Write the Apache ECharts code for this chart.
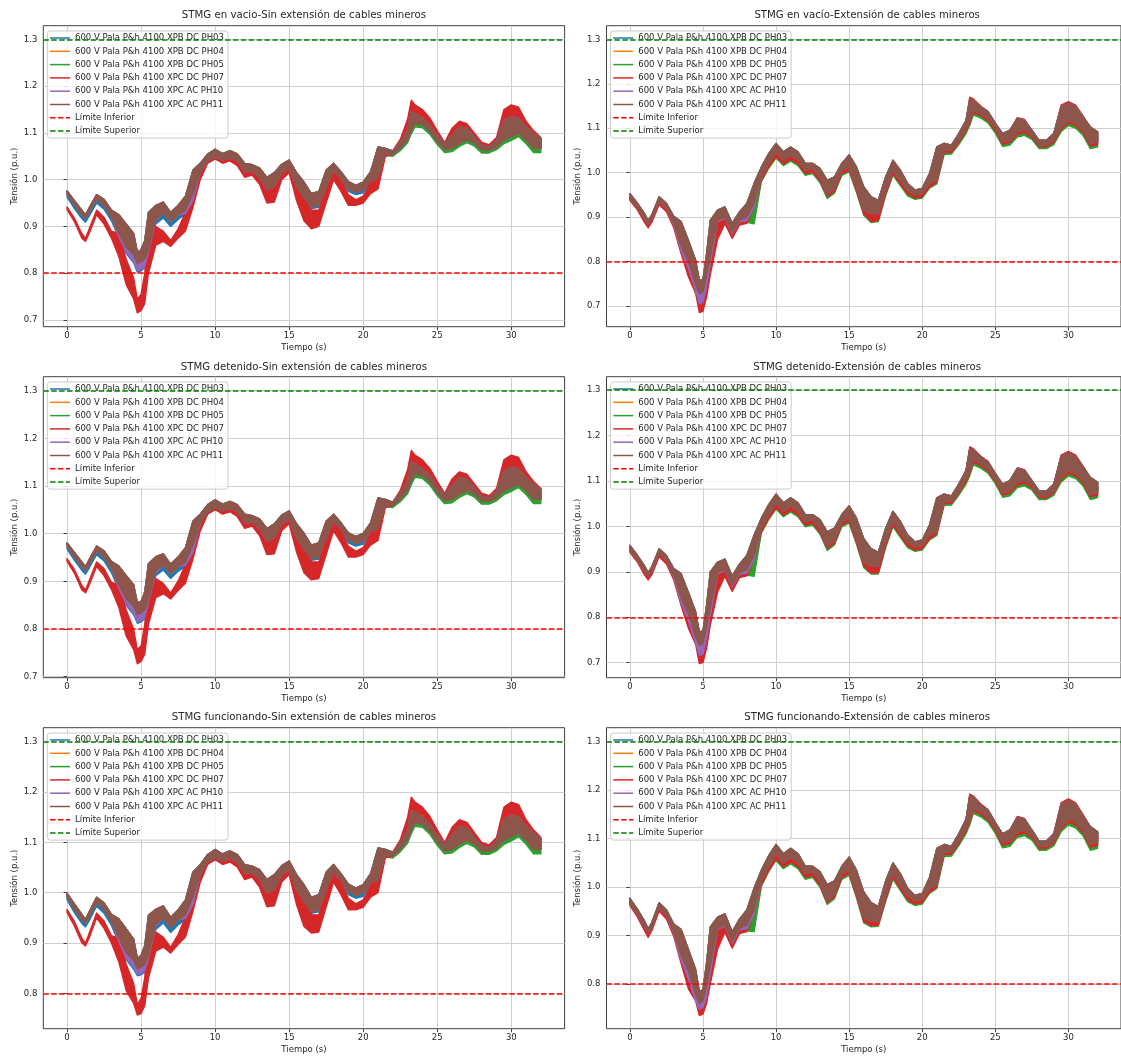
<!DOCTYPE html>
<html>
<head>
<meta charset="utf-8">
<script src="https://cdn.jsdelivr.net/npm/echarts@6/dist/echarts.min.js"></script>
<style>
  html, body { margin: 0; padding: 0; background: #ffffff; }
  #chart { width: 1121px; height: 1057px; }
</style>
</head>
<body>
<div id="chart"></div>
<script>
// Sample times (s)
const T = [
  0, 0.5, 1, 1.25, 1.5, 2,
  2.5, 3, 3.5, 4, 4.5, 4.75, 5, 5.25, 5.5,
  6, 6.5, 7, 7.5, 8, 8.5, 9, 9.5, 10,
  10.5, 11, 11.5, 12, 12.5, 13, 13.5, 14, 14.5, 15,
  15.5, 16, 16.5, 17, 17.5, 18, 18.5, 19, 19.5, 20,
  20.5, 21, 21.5, 22, 22.5, 23, 23.25, 23.5,
  24, 24.5, 25, 25.5, 26, 26.5, 27, 27.5, 28,
  28.5, 29, 29.5, 30, 30.5, 31, 31.5, 32
];

const SERIES_NAMES = [
  '600 V Pala P&h 4100 XPB DC PH03',
  '600 V Pala P&h 4100 XPB DC PH04',
  '600 V Pala P&h 4100 XPB DC PH05',
  '600 V Pala P&h 4100 XPC DC PH07',
  '600 V Pala P&h 4100 XPC AC PH10',
  '600 V Pala P&h 4100 XPC AC PH11'
];
const LIMIT_NAMES = ['Límite Inferior', 'Límite Superior'];
const LIM_INF = 0.8;
const LIM_SUP = 1.3;

const TITLES = [
  'STMG en vacio-Sin extensión de cables mineros',
  'STMG en vacío-Extensión de cables mineros',
  'STMG detenido-Sin extensión de cables mineros',
  'STMG detenido-Extensión de cables mineros',
  'STMG funcionando-Sin extensión de cables mineros',
  'STMG funcionando-Extensión de cables mineros'
];
const X_TICKS = [0, 5, 10, 15, 20, 25, 30];
const Y_TICKS = [0.7, 0.8, 0.9, 1.0, 1.1, 1.2, 1.3];

// Each voltage trace oscillates quickly; it is stored as the upper (HI)
// and lower (LO) envelope of the oscillation at every sample time.

// ---- STMG en vacío, sin extensión ----
const P1_PH11_HI = [
  0.976, 0.955, 0.935, 0.925, 0.940, 0.968,
  0.958, 0.935, 0.925, 0.905, 0.885, 0.845, 0.850, 0.870, 0.930,
  0.945, 0.952, 0.930, 0.945, 0.965, 1.020, 1.035, 1.055, 1.065,
  1.056, 1.062, 1.055, 1.035, 1.032, 1.025, 1.005, 1.015, 1.033, 1.042,
  1.015, 0.995, 0.970, 0.975, 1.020, 1.035, 1.017, 0.996, 0.988, 0.995,
  1.017, 1.070, 1.067, 1.061, 1.081, 1.106, 1.145, 1.142,
  1.131, 1.117, 1.095, 1.078, 1.095, 1.113, 1.110, 1.092, 1.074,
  1.070, 1.085, 1.127, 1.135, 1.131, 1.113, 1.099, 1.088
];
const P1_PH11_LO = [
  0.970, 0.945, 0.925, 0.917, 0.930, 0.958,
  0.945, 0.920, 0.885, 0.855, 0.840, 0.820, 0.825, 0.830, 0.850,
  0.915, 0.928, 0.910, 0.925, 0.935, 0.970, 1.015, 1.040, 1.048,
  1.042, 1.047, 1.040, 1.017, 1.018, 1.005, 0.978, 0.985, 1.015, 1.024,
  0.985, 0.962, 0.942, 0.945, 0.985, 1.020, 1.003, 0.981, 0.974, 0.978,
  0.998, 1.005, 1.056, 1.054, 1.067, 1.085, 1.105, 1.120,
  1.117, 1.103, 1.081, 1.064, 1.067, 1.078, 1.085, 1.078, 1.063,
  1.063, 1.070, 1.085, 1.092, 1.099, 1.085, 1.067, 1.067
];
const P1_PH07_HI = [
  0.942, 0.918, 0.885, 0.875, 0.895, 0.935,
  0.920, 0.890, 0.885, 0.830, 0.790, 0.745, 0.755, 0.800, 0.910,
  0.900, 0.890, 0.870, 0.895, 0.930, 0.990, 1.030, 1.050, 1.060,
  1.050, 1.055, 1.045, 1.025, 1.025, 1.012, 0.980, 0.985, 1.025, 1.035,
  0.990, 0.960, 0.935, 0.935, 0.990, 1.025, 1.000, 0.968, 0.957, 0.965,
  0.995, 1.030, 1.066, 1.062, 1.086, 1.130, 1.170, 1.160,
  1.150, 1.132, 1.105, 1.080, 1.110, 1.125, 1.120, 1.100, 1.080,
  1.075, 1.090, 1.150, 1.160, 1.155, 1.125, 1.105, 1.090
];
const P1_PH07_LO = [
  0.936, 0.910, 0.875, 0.868, 0.885, 0.925,
  0.905, 0.875, 0.835, 0.775, 0.745, 0.715, 0.720, 0.735, 0.800,
  0.860, 0.868, 0.857, 0.875, 0.890, 0.940, 1.000, 1.035, 1.045,
  1.035, 1.040, 1.030, 1.005, 1.010, 0.990, 0.950, 0.952, 1.000, 1.015,
  0.955, 0.912, 0.895, 0.900, 0.950, 1.000, 0.975, 0.945, 0.945, 0.950,
  0.970, 0.980, 1.050, 1.054, 1.070, 1.090, 1.120, 1.130,
  1.135, 1.115, 1.090, 1.070, 1.075, 1.090, 1.095, 1.085, 1.068,
  1.065, 1.075, 1.100, 1.110, 1.105, 1.090, 1.070, 1.070
];
const P1_PH03_LO = [
  0.963, 0.938, 0.917, 0.909, 0.922, 0.950,
  0.937, 0.912, 0.875, 0.842, 0.822, 0.802, 0.805, 0.812, 0.842,
  0.905, 0.918, 0.900, 0.915, 0.926, 0.955, 1.010, 1.036, 1.044,
  1.038, 1.043, 1.036, 1.013, 1.014, 1.001, 0.974, 0.981, 1.011, 1.020,
  0.981, 0.958, 0.938, 0.941, 0.981, 1.016, 0.999, 0.975, 0.968, 0.972,
  0.994, 1.005, 1.056, 1.054, 1.067, 1.085, 1.105, 1.120,
  1.117, 1.103, 1.081, 1.064, 1.067, 1.078, 1.085, 1.078, 1.063,
  1.063, 1.070, 1.085, 1.092, 1.099, 1.085, 1.067, 1.067
];
const P1_PH05_LO = [
  0.970, 0.945, 0.925, 0.917, 0.930, 0.958,
  0.945, 0.920, 0.885, 0.855, 0.840, 0.820, 0.825, 0.830, 0.850,
  0.915, 0.928, 0.910, 0.925, 0.935, 0.970, 1.015, 1.040, 1.048,
  1.042, 1.047, 1.040, 1.017, 1.018, 1.005, 0.978, 0.985, 1.015, 1.024,
  0.985, 0.962, 0.942, 0.945, 0.985, 1.020, 1.003, 0.981, 0.974, 0.978,
  0.998, 1.005, 1.052, 1.050, 1.062, 1.079, 1.098, 1.113,
  1.111, 1.097, 1.075, 1.058, 1.060, 1.071, 1.079, 1.072, 1.057,
  1.057, 1.064, 1.077, 1.084, 1.092, 1.077, 1.058, 1.058
];
const P1_PH10_LO = [
  0.970, 0.945, 0.925, 0.917, 0.930, 0.958,
  0.945, 0.920, 0.878, 0.845, 0.825, 0.805, 0.808, 0.815, 0.845,
  0.912, 0.928, 0.910, 0.925, 0.928, 0.955, 1.015, 1.040, 1.048,
  1.042, 1.047, 1.040, 1.017, 1.018, 1.005, 0.978, 0.985, 1.015, 1.024,
  0.985, 0.962, 0.942, 0.945, 0.985, 1.020, 1.003, 0.981, 0.974, 0.978,
  0.998, 1.005, 1.056, 1.054, 1.067, 1.085, 1.105, 1.120,
  1.117, 1.103, 1.081, 1.064, 1.067, 1.078, 1.085, 1.078, 1.063,
  1.063, 1.070, 1.085, 1.092, 1.099, 1.085, 1.067, 1.067
];

// ---- STMG en vacío, con extensión ----
const P2_PH11_HI = [
  0.953, 0.932, 0.908, 0.892, 0.905, 0.946,
  0.931, 0.902, 0.890, 0.848, 0.803, 0.758, 0.760, 0.818, 0.893,
  0.916, 0.923, 0.886, 0.912, 0.931, 0.976, 1.013, 1.043, 1.066,
  1.047, 1.058, 1.047, 1.021, 1.021, 1.010, 0.983, 0.991, 1.021, 1.040,
  1.013, 0.968, 0.946, 0.938, 0.991, 1.028, 1.006, 0.976, 0.961, 0.965,
  0.998, 1.058, 1.066, 1.062, 1.088, 1.118, 1.165, 1.163,
  1.148, 1.137, 1.111, 1.088, 1.096, 1.122, 1.118, 1.096, 1.073,
  1.073, 1.088, 1.148, 1.156, 1.148, 1.126, 1.103, 1.092
];
const P2_PH11_LO = [
  0.942, 0.922, 0.895, 0.884, 0.895, 0.935,
  0.920, 0.886, 0.835, 0.800, 0.748, 0.728, 0.732, 0.768, 0.812,
  0.893, 0.900, 0.865, 0.893, 0.900, 0.931, 0.991, 1.021, 1.047,
  1.028, 1.040, 1.028, 1.006, 1.010, 0.991, 0.950, 0.965, 1.006, 1.013,
  0.968, 0.916, 0.908, 0.908, 0.961, 1.006, 0.983, 0.961, 0.950, 0.953,
  0.976, 0.983, 1.051, 1.051, 1.073, 1.100, 1.118, 1.141,
  1.133, 1.122, 1.100, 1.070, 1.073, 1.092, 1.096, 1.085, 1.062,
  1.062, 1.073, 1.103, 1.118, 1.111, 1.096, 1.066, 1.070
];
const P2_PH07_HI = [
  0.948, 0.927, 0.902, 0.887, 0.900, 0.941,
  0.925, 0.896, 0.882, 0.838, 0.792, 0.748, 0.750, 0.808, 0.882,
  0.908, 0.915, 0.878, 0.905, 0.924, 0.968, 1.006, 1.036, 1.060,
  1.040, 1.051, 1.040, 1.014, 1.014, 1.003, 0.976, 0.984, 1.014, 1.034,
  1.006, 0.960, 0.938, 0.930, 0.984, 1.021, 0.999, 0.970, 0.955, 0.959,
  0.992, 1.050, 1.060, 1.056, 1.082, 1.118, 1.170, 1.166,
  1.150, 1.138, 1.112, 1.086, 1.094, 1.124, 1.120, 1.095, 1.072,
  1.072, 1.088, 1.152, 1.160, 1.152, 1.128, 1.102, 1.090
];
const P2_PH07_LO = [
  0.938, 0.917, 0.888, 0.876, 0.888, 0.928,
  0.912, 0.876, 0.818, 0.766, 0.728, 0.685, 0.688, 0.720, 0.770,
  0.850, 0.885, 0.852, 0.882, 0.886, 0.923, 0.983, 1.013, 1.036,
  1.020, 1.030, 1.020, 0.998, 1.002, 0.982, 0.946, 0.958, 0.998, 1.006,
  0.960, 0.908, 0.890, 0.893, 0.952, 0.998, 0.975, 0.952, 0.943, 0.946,
  0.968, 0.978, 1.045, 1.046, 1.068, 1.094, 1.112, 1.136,
  1.128, 1.117, 1.094, 1.064, 1.068, 1.086, 1.090, 1.080, 1.058,
  1.058, 1.068, 1.098, 1.112, 1.106, 1.090, 1.060, 1.064
];
const P2_PH05_LO = [
  0.942, 0.922, 0.895, 0.884, 0.895, 0.935,
  0.920, 0.886, 0.835, 0.800, 0.748, 0.728, 0.732, 0.768, 0.812,
  0.893, 0.900, 0.865, 0.890, 0.888, 0.885, 0.980, 1.010, 1.033,
  1.016, 1.026, 1.016, 0.994, 0.998, 0.978, 0.942, 0.954, 0.994, 1.002,
  0.956, 0.904, 0.888, 0.890, 0.948, 0.994, 0.971, 0.948, 0.940, 0.943,
  0.965, 0.975, 1.041, 1.042, 1.063, 1.088, 1.106, 1.130,
  1.123, 1.112, 1.089, 1.059, 1.062, 1.080, 1.084, 1.075, 1.054,
  1.054, 1.063, 1.092, 1.106, 1.100, 1.084, 1.054, 1.058
];
const P2_PH10_LO = [
  0.942, 0.922, 0.895, 0.884, 0.895, 0.935,
  0.920, 0.882, 0.825, 0.785, 0.735, 0.705, 0.708, 0.745, 0.795,
  0.890, 0.898, 0.862, 0.890, 0.892, 0.922, 0.991, 1.021, 1.047,
  1.028, 1.040, 1.028, 1.006, 1.010, 0.991, 0.950, 0.965, 1.006, 1.013,
  0.968, 0.916, 0.908, 0.908, 0.961, 1.006, 0.983, 0.961, 0.950, 0.953,
  0.976, 0.983, 1.051, 1.051, 1.073, 1.100, 1.118, 1.141,
  1.133, 1.122, 1.100, 1.070, 1.073, 1.092, 1.096, 1.085, 1.062,
  1.062, 1.073, 1.103, 1.118, 1.111, 1.096, 1.066, 1.070
];

// ---- STMG detenido, sin extensión ----
const P3_PH11_HI = [
  0.981, 0.961, 0.941, 0.931, 0.946, 0.974,
  0.964, 0.942, 0.932, 0.912, 0.893, 0.855, 0.858, 0.878, 0.937,
  0.952, 0.958, 0.936, 0.951, 0.971, 1.026, 1.041, 1.061, 1.071,
  1.062, 1.068, 1.061, 1.041, 1.038, 1.031, 1.011, 1.021, 1.039, 1.048,
  1.021, 1.001, 0.976, 0.981, 1.026, 1.041, 1.023, 1.002, 0.994, 1.001,
  1.023, 1.075, 1.072, 1.066, 1.086, 1.111, 1.150, 1.147,
  1.136, 1.122, 1.100, 1.083, 1.100, 1.118, 1.115, 1.097, 1.079,
  1.075, 1.090, 1.132, 1.140, 1.136, 1.118, 1.104, 1.093
];
const P3_PH11_LO = [
  0.975, 0.951, 0.931, 0.923, 0.936, 0.964,
  0.951, 0.926, 0.892, 0.863, 0.848, 0.830, 0.834, 0.840, 0.860,
  0.922, 0.934, 0.916, 0.931, 0.941, 0.976, 1.021, 1.046, 1.054,
  1.048, 1.053, 1.046, 1.023, 1.024, 1.011, 0.984, 0.991, 1.021, 1.030,
  0.991, 0.968, 0.948, 0.951, 0.991, 1.026, 1.009, 0.987, 0.980, 0.984,
  1.004, 1.011, 1.061, 1.059, 1.072, 1.090, 1.110, 1.125,
  1.122, 1.108, 1.086, 1.069, 1.072, 1.083, 1.090, 1.083, 1.068,
  1.068, 1.075, 1.090, 1.097, 1.104, 1.090, 1.072, 1.072
];
const P3_PH07_HI = [
  0.948, 0.925, 0.892, 0.882, 0.902, 0.941,
  0.927, 0.898, 0.893, 0.840, 0.800, 0.757, 0.765, 0.810, 0.918,
  0.906, 0.896, 0.876, 0.901, 0.936, 0.996, 1.036, 1.056, 1.066,
  1.056, 1.061, 1.051, 1.031, 1.031, 1.018, 0.986, 0.991, 1.031, 1.041,
  0.996, 0.966, 0.941, 0.941, 0.996, 1.031, 1.006, 0.974, 0.963, 0.971,
  1.001, 1.036, 1.071, 1.067, 1.091, 1.135, 1.175, 1.165,
  1.155, 1.137, 1.110, 1.085, 1.115, 1.130, 1.125, 1.105, 1.085,
  1.080, 1.095, 1.155, 1.165, 1.160, 1.130, 1.110, 1.095
];
const P3_PH07_LO = [
  0.942, 0.917, 0.882, 0.876, 0.892, 0.931,
  0.912, 0.883, 0.845, 0.785, 0.757, 0.727, 0.732, 0.747, 0.810,
  0.866, 0.874, 0.863, 0.881, 0.896, 0.946, 1.006, 1.041, 1.051,
  1.041, 1.046, 1.036, 1.011, 1.016, 0.996, 0.956, 0.958, 1.006, 1.021,
  0.961, 0.918, 0.903, 0.906, 0.956, 1.006, 0.981, 0.951, 0.951, 0.956,
  0.976, 0.986, 1.055, 1.059, 1.075, 1.095, 1.125, 1.135,
  1.140, 1.120, 1.095, 1.075, 1.080, 1.095, 1.100, 1.090, 1.073,
  1.070, 1.080, 1.105, 1.115, 1.110, 1.095, 1.075, 1.075
];
const P3_PH03_LO = [
  0.968, 0.944, 0.923, 0.915, 0.928, 0.956,
  0.943, 0.918, 0.882, 0.850, 0.830, 0.812, 0.815, 0.822, 0.852,
  0.912, 0.924, 0.906, 0.921, 0.932, 0.961, 1.016, 1.042, 1.050,
  1.044, 1.049, 1.042, 1.019, 1.020, 1.007, 0.980, 0.987, 1.017, 1.026,
  0.987, 0.964, 0.944, 0.947, 0.987, 1.022, 1.005, 0.981, 0.974, 0.978,
  1.000, 1.011, 1.061, 1.059, 1.072, 1.090, 1.110, 1.125,
  1.122, 1.108, 1.086, 1.069, 1.072, 1.083, 1.090, 1.083, 1.068,
  1.068, 1.075, 1.090, 1.097, 1.104, 1.090, 1.072, 1.072
];
const P3_PH05_LO = [
  0.975, 0.951, 0.931, 0.923, 0.936, 0.964,
  0.951, 0.926, 0.892, 0.863, 0.848, 0.830, 0.834, 0.840, 0.860,
  0.922, 0.934, 0.916, 0.931, 0.941, 0.976, 1.021, 1.046, 1.054,
  1.048, 1.053, 1.046, 1.023, 1.024, 1.011, 0.984, 0.991, 1.021, 1.030,
  0.991, 0.968, 0.948, 0.951, 0.991, 1.026, 1.009, 0.987, 0.980, 0.984,
  1.004, 1.011, 1.057, 1.055, 1.067, 1.084, 1.103, 1.118,
  1.116, 1.102, 1.080, 1.063, 1.065, 1.076, 1.084, 1.077, 1.062,
  1.062, 1.069, 1.082, 1.089, 1.097, 1.082, 1.063, 1.063
];
const P3_PH10_LO = [
  0.975, 0.951, 0.931, 0.923, 0.936, 0.964,
  0.951, 0.926, 0.885, 0.853, 0.833, 0.815, 0.818, 0.825, 0.855,
  0.918, 0.934, 0.916, 0.931, 0.934, 0.961, 1.021, 1.046, 1.054,
  1.048, 1.053, 1.046, 1.023, 1.024, 1.011, 0.984, 0.991, 1.021, 1.030,
  0.991, 0.968, 0.948, 0.951, 0.991, 1.026, 1.009, 0.987, 0.980, 0.984,
  1.004, 1.011, 1.061, 1.059, 1.072, 1.090, 1.110, 1.125,
  1.122, 1.108, 1.086, 1.069, 1.072, 1.083, 1.090, 1.083, 1.068,
  1.068, 1.075, 1.090, 1.097, 1.104, 1.090, 1.072, 1.072
];

// ---- STMG detenido, con extensión ----
const P4_PH11_HI = [
  0.958, 0.937, 0.913, 0.898, 0.911, 0.951,
  0.936, 0.907, 0.896, 0.855, 0.812, 0.768, 0.770, 0.827, 0.900,
  0.921, 0.928, 0.891, 0.917, 0.936, 0.981, 1.018, 1.048, 1.071,
  1.052, 1.063, 1.052, 1.026, 1.026, 1.015, 0.988, 0.996, 1.026, 1.045,
  1.018, 0.973, 0.951, 0.943, 0.996, 1.033, 1.011, 0.981, 0.966, 0.970,
  1.003, 1.063, 1.071, 1.067, 1.093, 1.123, 1.170, 1.168,
  1.153, 1.142, 1.116, 1.093, 1.101, 1.127, 1.123, 1.101, 1.078,
  1.078, 1.093, 1.153, 1.161, 1.153, 1.131, 1.108, 1.097
];
const P4_PH11_LO = [
  0.947, 0.927, 0.900, 0.890, 0.901, 0.940,
  0.925, 0.891, 0.842, 0.808, 0.757, 0.738, 0.742, 0.777, 0.820,
  0.898, 0.905, 0.870, 0.898, 0.905, 0.936, 0.996, 1.026, 1.052,
  1.033, 1.045, 1.033, 1.011, 1.015, 0.996, 0.955, 0.970, 1.011, 1.018,
  0.973, 0.921, 0.913, 0.913, 0.966, 1.011, 0.988, 0.966, 0.955, 0.958,
  0.981, 0.988, 1.056, 1.056, 1.078, 1.105, 1.123, 1.146,
  1.138, 1.127, 1.105, 1.075, 1.078, 1.097, 1.101, 1.090, 1.067,
  1.067, 1.078, 1.108, 1.123, 1.116, 1.101, 1.071, 1.075
];
const P4_PH07_HI = [
  0.953, 0.932, 0.907, 0.893, 0.906, 0.946,
  0.930, 0.901, 0.888, 0.846, 0.802, 0.758, 0.760, 0.818, 0.890,
  0.913, 0.920, 0.883, 0.910, 0.929, 0.973, 1.011, 1.041, 1.065,
  1.045, 1.056, 1.045, 1.019, 1.019, 1.008, 0.981, 0.989, 1.019, 1.039,
  1.011, 0.965, 0.943, 0.935, 0.989, 1.026, 1.004, 0.975, 0.960, 0.964,
  0.997, 1.055, 1.065, 1.061, 1.087, 1.123, 1.175, 1.171,
  1.155, 1.143, 1.117, 1.091, 1.099, 1.129, 1.125, 1.100, 1.077,
  1.077, 1.093, 1.157, 1.165, 1.157, 1.133, 1.107, 1.095
];
const P4_PH07_LO = [
  0.943, 0.922, 0.893, 0.882, 0.893, 0.933,
  0.917, 0.882, 0.826, 0.776, 0.740, 0.698, 0.700, 0.732, 0.782,
  0.855, 0.890, 0.857, 0.887, 0.891, 0.928, 0.988, 1.018, 1.041,
  1.025, 1.035, 1.025, 1.003, 1.007, 0.987, 0.951, 0.963, 1.003, 1.011,
  0.965, 0.913, 0.897, 0.898, 0.957, 1.003, 0.980, 0.957, 0.948, 0.951,
  0.973, 0.983, 1.050, 1.051, 1.073, 1.099, 1.117, 1.141,
  1.133, 1.122, 1.099, 1.069, 1.073, 1.091, 1.095, 1.085, 1.063,
  1.063, 1.073, 1.103, 1.117, 1.111, 1.095, 1.065, 1.069
];
const P4_PH05_LO = [
  0.947, 0.927, 0.900, 0.890, 0.901, 0.940,
  0.925, 0.891, 0.842, 0.808, 0.757, 0.738, 0.742, 0.777, 0.820,
  0.898, 0.905, 0.870, 0.895, 0.893, 0.890, 0.985, 1.015, 1.038,
  1.021, 1.031, 1.021, 0.999, 1.003, 0.983, 0.947, 0.959, 0.999, 1.007,
  0.961, 0.909, 0.895, 0.895, 0.953, 0.999, 0.976, 0.953, 0.945, 0.948,
  0.970, 0.980, 1.046, 1.047, 1.068, 1.093, 1.111, 1.135,
  1.128, 1.117, 1.094, 1.064, 1.067, 1.085, 1.089, 1.080, 1.059,
  1.059, 1.068, 1.097, 1.111, 1.105, 1.089, 1.059, 1.063
];
const P4_PH10_LO = [
  0.947, 0.927, 0.900, 0.890, 0.901, 0.940,
  0.925, 0.887, 0.832, 0.793, 0.744, 0.716, 0.719, 0.754, 0.803,
  0.895, 0.903, 0.867, 0.895, 0.897, 0.927, 0.996, 1.026, 1.052,
  1.033, 1.045, 1.033, 1.011, 1.015, 0.996, 0.955, 0.970, 1.011, 1.018,
  0.973, 0.921, 0.913, 0.913, 0.966, 1.011, 0.988, 0.966, 0.955, 0.958,
  0.981, 0.988, 1.056, 1.056, 1.078, 1.105, 1.123, 1.146,
  1.138, 1.127, 1.105, 1.075, 1.078, 1.097, 1.101, 1.090, 1.067,
  1.067, 1.078, 1.108, 1.123, 1.116, 1.101, 1.071, 1.075
];

// ---- STMG funcionando, sin extensión ----
const P5_PH11_HI = [
  0.999, 0.978, 0.957, 0.947, 0.962, 0.991,
  0.980, 0.957, 0.948, 0.928, 0.908, 0.870, 0.875, 0.895, 0.955,
  0.967, 0.974, 0.951, 0.966, 0.986, 1.041, 1.056, 1.076, 1.086,
  1.077, 1.083, 1.076, 1.056, 1.053, 1.046, 1.026, 1.036, 1.054, 1.063,
  1.036, 1.016, 0.991, 0.996, 1.041, 1.056, 1.038, 1.017, 1.009, 1.016,
  1.038, 1.089, 1.086, 1.080, 1.100, 1.125, 1.163, 1.160,
  1.150, 1.136, 1.114, 1.097, 1.114, 1.132, 1.129, 1.111, 1.093,
  1.089, 1.104, 1.146, 1.154, 1.150, 1.132, 1.118, 1.107
];
const P5_PH11_LO = [
  0.993, 0.967, 0.947, 0.940, 0.952, 0.981,
  0.967, 0.943, 0.910, 0.880, 0.866, 0.848, 0.852, 0.857, 0.875,
  0.937, 0.950, 0.931, 0.946, 0.956, 0.991, 1.036, 1.061, 1.069,
  1.063, 1.068, 1.061, 1.038, 1.039, 1.026, 0.999, 1.006, 1.036, 1.045,
  1.006, 0.983, 0.963, 0.966, 1.006, 1.041, 1.024, 1.002, 0.995, 0.999,
  1.019, 1.026, 1.075, 1.073, 1.086, 1.104, 1.124, 1.139,
  1.136, 1.122, 1.100, 1.083, 1.086, 1.097, 1.104, 1.097, 1.082,
  1.082, 1.089, 1.104, 1.111, 1.118, 1.104, 1.086, 1.086
];
const P5_PH07_HI = [
  0.967, 0.943, 0.910, 0.900, 0.920, 0.960,
  0.944, 0.915, 0.910, 0.858, 0.820, 0.778, 0.790, 0.832, 0.935,
  0.922, 0.912, 0.892, 0.917, 0.952, 1.012, 1.051, 1.071, 1.081,
  1.071, 1.076, 1.066, 1.046, 1.046, 1.033, 1.001, 1.006, 1.046, 1.056,
  1.011, 0.981, 0.956, 0.956, 1.011, 1.046, 1.021, 0.989, 0.978, 0.986,
  1.016, 1.051, 1.085, 1.081, 1.105, 1.150, 1.190, 1.180,
  1.170, 1.152, 1.125, 1.100, 1.130, 1.145, 1.140, 1.120, 1.100,
  1.095, 1.110, 1.170, 1.180, 1.175, 1.145, 1.125, 1.110
];
const P5_PH07_LO = [
  0.961, 0.934, 0.900, 0.894, 0.910, 0.950,
  0.929, 0.900, 0.862, 0.805, 0.780, 0.757, 0.760, 0.775, 0.830,
  0.884, 0.892, 0.880, 0.897, 0.912, 0.962, 1.021, 1.056, 1.066,
  1.056, 1.061, 1.051, 1.026, 1.031, 1.011, 0.972, 0.974, 1.021, 1.036,
  0.976, 0.933, 0.920, 0.922, 0.971, 1.021, 0.996, 0.966, 0.966, 0.971,
  0.991, 1.000, 1.069, 1.073, 1.089, 1.109, 1.139, 1.149,
  1.155, 1.135, 1.110, 1.090, 1.095, 1.110, 1.115, 1.105, 1.088,
  1.085, 1.095, 1.120, 1.130, 1.125, 1.110, 1.090, 1.090
];
const P5_PH03_LO = [
  0.986, 0.960, 0.939, 0.932, 0.944, 0.973,
  0.959, 0.935, 0.900, 0.867, 0.848, 0.835, 0.837, 0.842, 0.867,
  0.927, 0.940, 0.921, 0.936, 0.947, 0.976, 1.031, 1.057, 1.065,
  1.059, 1.064, 1.057, 1.034, 1.035, 1.022, 0.995, 1.002, 1.032, 1.041,
  1.002, 0.979, 0.959, 0.962, 1.002, 1.037, 1.020, 0.996, 0.989, 0.993,
  1.015, 1.026, 1.075, 1.073, 1.086, 1.104, 1.124, 1.139,
  1.136, 1.122, 1.100, 1.083, 1.086, 1.097, 1.104, 1.097, 1.082,
  1.082, 1.089, 1.104, 1.111, 1.118, 1.104, 1.086, 1.086
];
const P5_PH05_LO = [
  0.993, 0.967, 0.947, 0.940, 0.952, 0.981,
  0.967, 0.943, 0.910, 0.880, 0.866, 0.848, 0.852, 0.857, 0.875,
  0.937, 0.950, 0.931, 0.946, 0.956, 0.991, 1.036, 1.061, 1.069,
  1.063, 1.068, 1.061, 1.038, 1.039, 1.026, 0.999, 1.006, 1.036, 1.045,
  1.006, 0.983, 0.963, 0.966, 1.006, 1.041, 1.024, 1.002, 0.995, 0.999,
  1.019, 1.026, 1.071, 1.069, 1.081, 1.098, 1.117, 1.132,
  1.130, 1.116, 1.094, 1.077, 1.079, 1.090, 1.098, 1.091, 1.076,
  1.076, 1.083, 1.096, 1.103, 1.111, 1.096, 1.077, 1.077
];
const P5_PH10_LO = [
  0.993, 0.967, 0.947, 0.940, 0.952, 0.981,
  0.967, 0.943, 0.903, 0.870, 0.852, 0.838, 0.840, 0.845, 0.870,
  0.933, 0.950, 0.931, 0.946, 0.949, 0.976, 1.036, 1.061, 1.069,
  1.063, 1.068, 1.061, 1.038, 1.039, 1.026, 0.999, 1.006, 1.036, 1.045,
  1.006, 0.983, 0.963, 0.966, 1.006, 1.041, 1.024, 1.002, 0.995, 0.999,
  1.019, 1.026, 1.075, 1.073, 1.086, 1.104, 1.124, 1.139,
  1.136, 1.122, 1.100, 1.083, 1.086, 1.097, 1.104, 1.097, 1.082,
  1.082, 1.089, 1.104, 1.111, 1.118, 1.104, 1.086, 1.086
];

// ---- STMG funcionando, con extensión ----
const P6_PH11_HI = [
  0.977, 0.955, 0.930, 0.914, 0.927, 0.968,
  0.953, 0.924, 0.913, 0.872, 0.830, 0.785, 0.788, 0.845, 0.918,
  0.938, 0.945, 0.908, 0.934, 0.953, 0.998, 1.035, 1.065, 1.088,
  1.069, 1.080, 1.069, 1.043, 1.043, 1.032, 1.005, 1.013, 1.043, 1.062,
  1.035, 0.990, 0.968, 0.960, 1.013, 1.050, 1.028, 0.998, 0.983, 0.987,
  1.020, 1.080, 1.088, 1.084, 1.110, 1.140, 1.188, 1.185,
  1.170, 1.159, 1.133, 1.110, 1.118, 1.144, 1.140, 1.118, 1.095,
  1.095, 1.110, 1.170, 1.178, 1.170, 1.148, 1.125, 1.114
];
const P6_PH11_LO = [
  0.966, 0.944, 0.917, 0.906, 0.917, 0.957,
  0.942, 0.908, 0.860, 0.826, 0.778, 0.760, 0.765, 0.795, 0.838,
  0.915, 0.922, 0.887, 0.915, 0.922, 0.953, 1.013, 1.043, 1.069,
  1.050, 1.062, 1.050, 1.028, 1.032, 1.013, 0.972, 0.987, 1.028, 1.035,
  0.990, 0.938, 0.930, 0.930, 0.983, 1.028, 1.005, 0.983, 0.972, 0.975,
  0.998, 1.005, 1.073, 1.073, 1.095, 1.122, 1.140, 1.163,
  1.155, 1.144, 1.122, 1.092, 1.095, 1.114, 1.118, 1.107, 1.084,
  1.084, 1.095, 1.125, 1.140, 1.133, 1.118, 1.088, 1.092
];
const P6_PH07_HI = [
  0.972, 0.950, 0.924, 0.909, 0.922, 0.963,
  0.947, 0.918, 0.905, 0.863, 0.820, 0.775, 0.778, 0.835, 0.908,
  0.930, 0.937, 0.900, 0.927, 0.946, 0.990, 1.028, 1.058, 1.082,
  1.062, 1.073, 1.062, 1.036, 1.036, 1.025, 0.998, 1.006, 1.036, 1.056,
  1.028, 0.982, 0.960, 0.952, 1.006, 1.043, 1.021, 0.992, 0.977, 0.981,
  1.014, 1.072, 1.082, 1.078, 1.104, 1.140, 1.192, 1.188,
  1.172, 1.160, 1.134, 1.108, 1.116, 1.146, 1.142, 1.117, 1.094,
  1.094, 1.110, 1.174, 1.182, 1.174, 1.150, 1.124, 1.112
];
const P6_PH07_LO = [
  0.962, 0.939, 0.910, 0.896, 0.910, 0.950,
  0.934, 0.898, 0.843, 0.790, 0.765, 0.735, 0.738, 0.760, 0.800,
  0.872, 0.907, 0.874, 0.904, 0.908, 0.945, 1.005, 1.035, 1.058,
  1.042, 1.052, 1.042, 1.020, 1.024, 1.004, 0.968, 0.980, 1.020, 1.028,
  0.982, 0.930, 0.920, 0.922, 0.974, 1.020, 0.997, 0.974, 0.965, 0.968,
  0.990, 1.000, 1.067, 1.068, 1.090, 1.116, 1.134, 1.158,
  1.150, 1.139, 1.116, 1.086, 1.090, 1.108, 1.112, 1.102, 1.080,
  1.080, 1.090, 1.120, 1.134, 1.128, 1.112, 1.082, 1.086
];
const P6_PH05_LO = [
  0.966, 0.944, 0.917, 0.906, 0.917, 0.957,
  0.942, 0.908, 0.860, 0.826, 0.778, 0.760, 0.765, 0.795, 0.838,
  0.915, 0.922, 0.887, 0.912, 0.910, 0.908, 1.002, 1.032, 1.055,
  1.038, 1.048, 1.038, 1.016, 1.020, 1.000, 0.964, 0.976, 1.016, 1.024,
  0.978, 0.926, 0.918, 0.919, 0.970, 1.016, 0.993, 0.970, 0.962, 0.965,
  0.987, 0.997, 1.063, 1.064, 1.085, 1.110, 1.128, 1.152,
  1.145, 1.134, 1.111, 1.081, 1.084, 1.102, 1.106, 1.097, 1.076,
  1.076, 1.085, 1.114, 1.128, 1.122, 1.106, 1.076, 1.080
];
const P6_PH10_LO = [
  0.966, 0.944, 0.917, 0.906, 0.917, 0.957,
  0.942, 0.904, 0.850, 0.811, 0.764, 0.748, 0.752, 0.774, 0.821,
  0.912, 0.920, 0.884, 0.912, 0.914, 0.944, 1.013, 1.043, 1.069,
  1.050, 1.062, 1.050, 1.028, 1.032, 1.013, 0.972, 0.987, 1.028, 1.035,
  0.990, 0.938, 0.930, 0.930, 0.983, 1.028, 1.005, 0.983, 0.972, 0.975,
  0.998, 1.005, 1.073, 1.073, 1.095, 1.122, 1.140, 1.163,
  1.155, 1.144, 1.122, 1.092, 1.095, 1.114, 1.118, 1.107, 1.084,
  1.084, 1.095, 1.125, 1.140, 1.133, 1.118, 1.088, 1.092
];

// Envelopes per trace, in legend order (PH03, PH04, PH05, PH07, PH10, PH11).
// PH03, PH04, PH05 and PH10 share the PH11 upper envelope; PH04 also shares
// its lower one, and so does PH03 in the cable-extension cases.
const PANEL_DATA = [
  [[P1_PH11_HI, P1_PH03_LO], [P1_PH11_HI, P1_PH11_LO], [P1_PH11_HI, P1_PH05_LO],
   [P1_PH07_HI, P1_PH07_LO], [P1_PH11_HI, P1_PH10_LO], [P1_PH11_HI, P1_PH11_LO]],
  [[P2_PH11_HI, P2_PH11_LO], [P2_PH11_HI, P2_PH11_LO], [P2_PH11_HI, P2_PH05_LO],
   [P2_PH07_HI, P2_PH07_LO], [P2_PH11_HI, P2_PH10_LO], [P2_PH11_HI, P2_PH11_LO]],
  [[P3_PH11_HI, P3_PH03_LO], [P3_PH11_HI, P3_PH11_LO], [P3_PH11_HI, P3_PH05_LO],
   [P3_PH07_HI, P3_PH07_LO], [P3_PH11_HI, P3_PH10_LO], [P3_PH11_HI, P3_PH11_LO]],
  [[P4_PH11_HI, P4_PH11_LO], [P4_PH11_HI, P4_PH11_LO], [P4_PH11_HI, P4_PH05_LO],
   [P4_PH07_HI, P4_PH07_LO], [P4_PH11_HI, P4_PH10_LO], [P4_PH11_HI, P4_PH11_LO]],
  [[P5_PH11_HI, P5_PH03_LO], [P5_PH11_HI, P5_PH11_LO], [P5_PH11_HI, P5_PH05_LO],
   [P5_PH07_HI, P5_PH07_LO], [P5_PH11_HI, P5_PH10_LO], [P5_PH11_HI, P5_PH11_LO]],
  [[P6_PH11_HI, P6_PH11_LO], [P6_PH11_HI, P6_PH11_LO], [P6_PH11_HI, P6_PH05_LO],
   [P6_PH07_HI, P6_PH07_LO], [P6_PH11_HI, P6_PH10_LO], [P6_PH11_HI, P6_PH11_LO]]
];

// ---------------- layout & style ----------------
const COLORS = ['#1f77b4', '#ff7f0e', '#2ca02c', '#d62728', '#9467bd', '#8c564b'];
const LIMIT_COLORS = ['#ff0000', '#008000'];
const FONT = 'DejaVu Sans';
const COL_LEFT = [43.3, 606.5];
const ROW_TOP = [25.7, 376.7, 727.7];
const PLOT_W = 521.3;
const PLOT_H = 301;
const TITLE_Y = [10.5, 362, 712.8];
const Y_RANGE = [
  [0.6857, 1.3292], [0.6535, 1.3308],
  [0.6980, 1.3294], [0.6670, 1.3293],
  [0.7299, 1.3278], [0.7080, 1.3288]
];
const X_RANGE = [-1.6, 33.6];
const DASH = [5.5, 2.4];

// Filled band between the LO and HI envelopes, placed through the axis scales.
function bandRenderer(hi, lo, color) {
  return function (params, api) {
    if (params.dataIndex !== 0) return null;
    const pts = [];
    for (let j = 0; j < T.length; j++) pts.push(api.coord([T[j], hi[j]]));
    for (let j = T.length - 1; j >= 0; j--) pts.push(api.coord([T[j], lo[j]]));
    return {
      type: 'polygon',
      shape: { points: pts },
      style: { fill: color, stroke: color, lineWidth: 1.3, lineJoin: 'round' }
    };
  };
}

const grids = [], xAxes = [], yAxes = [], titles = [], legends = [], series = [];

PANEL_DATA.forEach((envelopes, i) => {
  const col = i % 2, row = Math.floor(i / 2);
  const left = COL_LEFT[col], top = ROW_TOP[row];
  grids.push({
    left: left, top: top, width: PLOT_W, height: PLOT_H,
    show: true, borderColor: '#404040', borderWidth: 1, backgroundColor: 'transparent'
  });
  xAxes.push({
    gridIndex: i, type: 'value', min: X_RANGE[0], max: X_RANGE[1],
    axisLine: { show: false },
    axisTick: { show: true, length: 3.5, customValues: X_TICKS, lineStyle: { color: '#404040', width: 1 } },
    axisLabel: { customValues: X_TICKS, fontFamily: FONT, fontSize: 8.5, color: '#262626', margin: 5 },
    splitLine: { show: true, lineStyle: { color: '#cbcbcb', width: 0.9 } },
    name: 'Tiempo (s)', nameLocation: 'middle', nameGap: 17,
    nameTextStyle: { fontFamily: FONT, fontSize: 8.5, color: '#262626' }
  });
  yAxes.push({
    gridIndex: i, type: 'value', min: Y_RANGE[i][0], max: Y_RANGE[i][1],
    axisLine: { show: false },
    axisTick: { show: true, length: 3.5, customValues: Y_TICKS, lineStyle: { color: '#404040', width: 1 } },
    axisLabel: { customValues: Y_TICKS, fontFamily: FONT, fontSize: 8.5, color: '#262626', margin: 6,
                 formatter: v => v.toFixed(1) },
    splitLine: { show: true, lineStyle: { color: '#cbcbcb', width: 0.9 } },
    name: 'Tensión (p.u.)', nameLocation: 'middle', nameGap: 24,
    nameTextStyle: { fontFamily: FONT, fontSize: 8.5, color: '#262626' }
  });
  titles.push({
    text: TITLES[i], left: left + PLOT_W / 2, top: TITLE_Y[row], textAlign: 'center', padding: 0,
    textStyle: { fontFamily: FONT, fontSize: 10.2, fontWeight: 'normal', color: '#262626' }
  });
  legends.push({
    orient: 'vertical', left: left + 4, top: top + 5.3,
    padding: [2, 4, 2, 2], itemGap: 3.3, itemWidth: 20, itemHeight: 10,
    backgroundColor: 'rgba(255,255,255,0.8)', borderColor: '#cccccc', borderWidth: 1, borderRadius: 3,
    selectedMode: false,
    itemStyle: { opacity: 0 },
    lineStyle: { width: 1.5 },
    textStyle: { fontFamily: FONT, fontSize: 8.5, color: '#262626', lineHeight: 10 },
    data: SERIES_NAMES.concat(LIMIT_NAMES)
  });

  // six traces, each one a band between its LO and HI envelopes
  SERIES_NAMES.forEach((name, k) => {
    const hi = envelopes[k][0], lo = envelopes[k][1];
    series.push({
      type: 'custom', name: 'band ' + i + ' ' + k, xAxisIndex: i, yAxisIndex: i,
      data: T.map((t, j) => [t, lo[j], hi[j]]),
      encode: { x: 0, y: [1, 2] },
      renderItem: bandRenderer(hi, lo, COLORS[k]),
      clip: true, silent: true
    });
    // legend entry for the trace
    series.push({
      type: 'line', name: name, xAxisIndex: i, yAxisIndex: i, data: [],
      symbol: 'none', silent: true,
      itemStyle: { color: COLORS[k] },
      lineStyle: { color: COLORS[k], width: 1.5 }
    });
  });

  // limit lines across the whole plot width
  [LIM_INF, LIM_SUP].forEach((lim, m) => {
    series.push({
      type: 'line', name: LIMIT_NAMES[m], xAxisIndex: i, yAxisIndex: i, data: [],
      symbol: 'none', silent: true,
      itemStyle: { color: LIMIT_COLORS[m] },
      lineStyle: { color: LIMIT_COLORS[m], width: 1.5, type: DASH },
      markLine: {
        silent: true, symbol: ['none', 'none'], label: { show: false },
        emphasis: { disabled: true },
        lineStyle: { color: LIMIT_COLORS[m], width: 1.5, type: DASH },
        data: [{ yAxis: lim }]
      }
    });
  });
});

const chart = echarts.init(document.getElementById('chart'), null, { renderer: 'canvas' });
chart.setOption({
  animation: false,
  backgroundColor: '#ffffff',
  title: titles,
  legend: legends,
  grid: grids,
  xAxis: xAxes,
  yAxis: yAxes,
  series: series
});
</script>
</body>
</html>
